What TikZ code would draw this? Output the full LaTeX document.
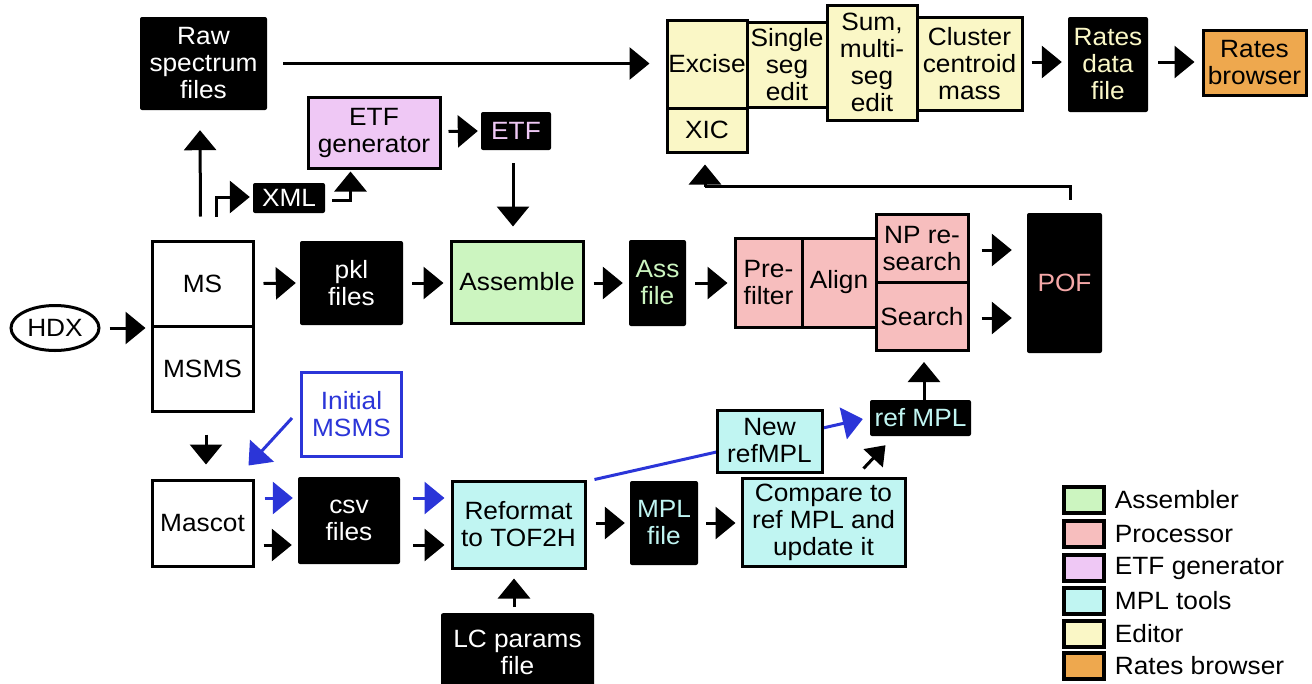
\documentclass[tikz,border=0pt]{standalone}
\usepackage{fontspec}
\setmainfont[FakeStretch=1.05]{Liberation Sans}
\usetikzlibrary{arrows.meta,calc,shapes.geometric}
\definecolor{asmgreen}{HTML}{CCF5C0}
\definecolor{procpink}{HTML}{F7BEBE}
\definecolor{etfpink}{HTML}{EFC8F5}
\definecolor{mplcyan}{HTML}{C0F5F2}
\definecolor{edyellow}{HTML}{FAF7C6}
\definecolor{rborange}{HTML}{EEA84E}
\definecolor{myblue}{HTML}{2B35D8}
\definecolor{poftext}{HTML}{F5A8A8}
\tikzset{
  blk/.style={fill=black, text=white, rounded corners=2pt, inner sep=0pt, align=center},
  cbox/.style={draw=black, line width=3pt, inner sep=0pt, align=center},
  arr/.style={line width=3pt, -{Triangle[length=20pt,width=32pt]}},
  sarr/.style={line width=3pt, -{Triangle[length=18pt,width=26pt]}},
  barr/.style={arr, draw=myblue, fill=myblue},
  legsq/.style={draw=black, line width=3.4pt, minimum width=40pt, minimum height=26pt, inner sep=0pt},
  legtx/.style={anchor=west, inner sep=0pt}
}
\begin{document}
\begin{tikzpicture}[x=1pt,y=-1pt,font=\fontsize{25}{27}\selectfont]
\useasboundingbox (0,0) rectangle (1312,683);
% ---------- top row
\node[blk, minimum width=127pt, minimum height=93pt] (raw) at (203.5,63.5) {Raw\\spectrum\\files};
\node[cbox, fill=etfpink, minimum width=132pt, minimum height=71pt] (etfgen) at (374,132.5) {ETF\\generator};
\node[blk, text=etfpink, minimum width=70pt, minimum height=38pt] (etf) at (516,131) {ETF};
\node[blk, minimum width=72pt, minimum height=30pt] (xml) at (289,198) {XML};
\node[cbox, fill=edyellow, minimum width=80pt, minimum height=88pt] (excise) at (707,64) {Excise};
\node[cbox, fill=edyellow, minimum width=80pt, minimum height=44pt] (xic) at (707,130) {XIC};
\node[cbox, fill=edyellow, minimum width=80pt, minimum height=85pt] (single) at (787,64.5) {Single\\seg\\edit};
\node[cbox, fill=edyellow, minimum width=90pt, minimum height=115pt] (summ) at (872,62.5) {Sum,\\multi-\\seg\\edit};
\node[cbox, fill=edyellow, minimum width=105pt, minimum height=93pt] (cluster) at (969.5,63.5) {Cluster\\centroid\\mass};
\node[blk, text=edyellow, minimum width=80pt, minimum height=95pt] (ratesdata) at (1108,64.5) {Rates\\data\\file};
\node[cbox, fill=rborange, minimum width=103pt, minimum height=65pt] (ratesbr) at (1254.5,62.5) {Rates\\browser};
% ---------- middle row
\node[draw=black, line width=3pt, ellipse, minimum width=88pt, minimum height=45pt, inner sep=0pt] (hdx) at (55,328) {HDX};
\node[cbox, fill=white, minimum width=101pt, minimum height=85pt] (ms) at (202.5,283.5) {MS};
\node[cbox, fill=white, minimum width=101pt, minimum height=85pt] (msms) at (202.5,368.5) {MSMS};
\node[blk, minimum width=103pt, minimum height=84pt] (pkl) at (351.5,283) {pkl\\files};
\node[cbox, fill=asmgreen, minimum width=132pt, minimum height=82pt] (assemble) at (517,282) {Assemble};
\node[blk, text=asmgreen, minimum width=57pt, minimum height=86pt] (assfile) at (657.5,283) {Ass\\file};
\node[cbox, fill=procpink, minimum width=67pt, minimum height=89pt] (prefilter) at (768.5,282.5) {Pre-\\filter};
\node[cbox, fill=procpink, minimum width=74pt, minimum height=89pt] (align) at (839,282.5) {Align};
\node[cbox, fill=procpink, minimum width=92pt, minimum height=68pt] (npre) at (922,248.5) {NP re-\\search};
\node[cbox, fill=procpink, minimum width=92pt, minimum height=68pt] (search) at (922,316.5) {Search\\[-27pt]\phantom{x}};
\node[blk, text=poftext, minimum width=75pt, minimum height=140pt] (pof) at (1064.5,283) {POF};
% ---------- bottom
\node[draw=myblue, line width=3pt, fill=white, text=myblue, inner sep=0pt, align=center, minimum width=100pt, minimum height=84pt] (initial) at (351.5,414) {Initial\\MSMS};
\node[cbox, fill=white, minimum width=101pt, minimum height=86pt] (mascot) at (202.5,523) {Mascot};
\node[blk, minimum width=102pt, minimum height=87pt] (csv) at (349,520.5) {csv\\files};
\node[cbox, fill=mplcyan, minimum width=133pt, minimum height=87pt] (reformat) at (518.5,524.5) {Reformat\\to TOF2H};
\node[blk, minimum width=153pt, minimum height=78pt, anchor=north] (lc) at (517.5,613) {LC params\\file};
\node[blk, text=mplcyan, minimum width=68pt, minimum height=84pt] (mplfile) at (664,523) {MPL\\file};
\node[cbox, fill=mplcyan, minimum width=163pt, minimum height=88pt] (compare) at (823.5,522) {Compare to\\ref MPL and\\update it};
\node[blk, text=mplcyan, minimum width=101pt, minimum height=36pt] (refmpl) at (920.5,418) {ref MPL};
% blue line behind New refMPL
\draw[barr] ($(reformat.north east)+(8,0)$) -- ($(refmpl.west)+(-7,1)$);
\node[cbox, fill=mplcyan, minimum width=105pt, minimum height=62pt] (newref) at (769.5,441) {New\\refMPL};
% ---------- arrows
\draw[arr] ($(raw.east)+(16,0)$) -- ($(excise.west|-raw.east)+(-16,0)$);
\draw[arr] ($(ms.north)+(-2,-23)$) -- ($(raw.south)+(-3.5,20)$);
\draw[arr] ($(ms.north)+(13.5,-23)$) |- ($(xml.west)+(-3,-1)$);
\draw[arr] ($(xml.east)+(7,2)$) -| ($(etfgen.south west)+(44,2)$);
\draw[arr] ($(etfgen.east)+(7,-1)$) -- ($(etf.west)+(-3,0)$);
\draw[arr] ($(etf.south)+(-3,13)$) -- ($(assemble.north)+(-4,-13)$);
\draw[arr] (hdx.east)++(9,0) -- ($(ms.west|-hdx.east)+(-5,0)$);
\draw[arr] ($(ms.east)+(9,0)$) -- ($(pkl.west)+(-4,0)$);
\draw[arr] ($(pkl.east)+(9,0)$) -- ($(assemble.west)+(-6,1)$);
\draw[arr] ($(assemble.east)+(9,1)$) -- ($(assfile.west)+(-6,0)$);
\draw[arr] ($(assfile.east)+(9,0)$) -- ($(prefilter.west)+(-6,0.5)$);
\draw[arr] ($(npre.east)+(12,1.5)$) -- ($(pof.west|-npre.east)+(-15,1.5)$);
\draw[arr] ($(search.east)+(12,1.5)$) -- ($(pof.west|-search.east)+(-15,1.5)$);
\draw[line width=3pt] ($(pof.north)+(5.5,-13)$) |- ($(xic.south)+(-2,33)$) coordinate (fb);
\draw[arr] (fb) -- ($(xic.south)+(-2,11)$);
\draw[arr] ($(cluster.east)+(8,-1.5)$) -- ($(ratesdata.west)+(-6,-2.5)$);
\draw[arr] ($(ratesdata.east)+(10,-2.5)$) -- ($(ratesbr.west)+(-7,-0.5)$);
\draw[arr] ($(msms.south)+(3.5,22)$) -- ($(mascot.north)+(3.5,-14)$);
\draw[barr] ($(initial.west)+(-8,4)$) -- ($(mascot.north east)+(-6,-13)$);
\draw[barr] ($(mascot.east)+(10,-25)$) -- ($(csv.west)+(-5,-22.5)$);
\draw[arr] ($(mascot.east)+(9,22)$) -- ($(csv.west)+(-6,24.5)$);
\draw[barr] ($(csv.east)+(13,-22.5)$) -- ($(reformat.west)+(-6,-26.5)$);
\draw[arr] ($(csv.east)+(13,24.5)$) -- ($(reformat.west)+(-6,20.5)$);
\draw[arr] ($(lc.north)+(-3.5,-6)$) -- ($(reformat.south)+(-4.5,9)$);
\draw[arr] ($(reformat.east)+(9,-1.5)$) -- ($(mplfile.west)+(-5,0)$);
\draw[arr] ($(mplfile.east)+(8,0)$) -- ($(compare.west)+(-5,1)$);
\draw[sarr] ($(compare.north)+(40,-8)$) -- ($(refmpl.south)+(-35,9)$);
\draw[arr] ($(refmpl.south)+(3.5,-26)$) -- ($(search.south)+(2,10)$);
% ---------- legend
\node[legsq, fill=asmgreen] (l1) at (1084,500) {};
\node[legsq, fill=procpink] (l2) at (1084,534) {};
\node[legsq, fill=etfpink] (l3) at (1084,568) {};
\node[legsq, fill=mplcyan] (l4) at (1084,601) {};
\node[legsq, fill=edyellow] (l5) at (1084,634) {};
\node[legsq, fill=rborange] (l6) at (1084,666) {};
\node[legtx] at ($(l1.east)+(9,0)$) {Assembler};
\node[legtx] at ($(l2.east)+(9,0)$) {Processor};
\node[legtx] at ($(l3.east)+(9,0)$) {ETF generator};
\node[legtx] at ($(l4.east)+(9,0)$) {MPL tools};
\node[legtx] at ($(l5.east)+(9,0)$) {Editor};
\node[legtx] at ($(l6.east)+(9,0)$) {Rates browser};
\end{tikzpicture}
\end{document}
